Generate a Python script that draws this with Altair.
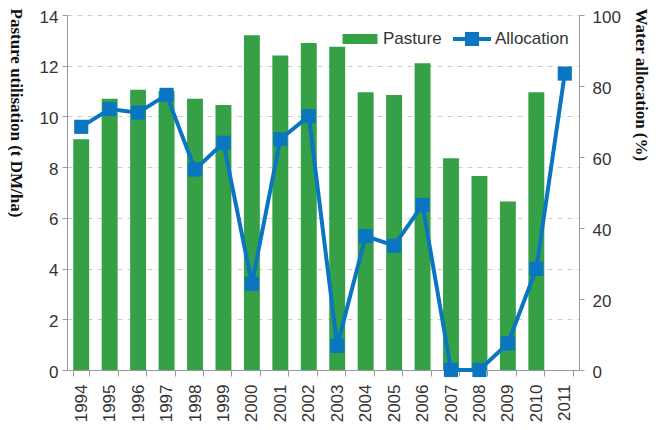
import altair as alt
import pandas as pd

years = [str(y) for y in range(1994, 2012)]
pasture = [9.1, 10.7, 11.05, 11.0, 10.7, 10.45, 13.2, 12.4, 12.9, 12.75,
           10.95, 10.85, 12.1, 8.35, 7.65, 6.65, 10.95, None]
allocation = [68.5, 73.5, 72.5, 77.5, 56.5, 64.0, 24.3, 65.0, 71.5, 6.8,
              37.7, 35.0, 46.5, 0.0, 0.0, 7.5, 28.5, 83.5]
series_names = ["Pasture", "Allocation"]
left_ticks = [0, 2, 4, 6, 8, 10, 12, 14]
right_ticks = [0, 20, 40, 60, 80, 100]

GREEN = "#35a046"
BLUE = "#0a76c2"
AXIS_GRAY = "#9a9a9a"
TXT = "#333333"
SANS = "Liberation Sans"
SERIF = "Liberation Serif"

df = pd.DataFrame({"year": years, "pasture": pasture, "allocation": allocation})
legend_df = pd.DataFrame({"series": series_names})

x_enc = alt.X(
    "year:O",
    title=None,
    scale=alt.Scale(paddingInner=0.44, paddingOuter=0.22),
    axis=alt.Axis(
        labelAngle=-90, labelAlign="right", labelBaseline="middle",
        tickBand="extent", tickSize=6, labelPadding=8,
        labelFontSize=17, labelColor=TXT, labelFont=SANS,
        domainColor=AXIS_GRAY, tickColor=AXIS_GRAY,
    ),
)

bars = alt.Chart(df).mark_bar(color=GREEN).encode(
    x=x_enc,
    y=alt.Y(
        "pasture:Q",
        scale=alt.Scale(domain=[0, 14], nice=False),
        axis=alt.Axis(
            orient="left", values=left_ticks, title="Pasture utilisation (t DM/ha)",
            grid=True, gridDash=[5, 5], gridColor="#cccccc",
            tickSize=5, labelPadding=4, labelOffset=2,
            labelFontSize=17, labelColor=TXT, labelFont=SANS,
            domainColor=AXIS_GRAY, tickColor=AXIS_GRAY,
            titleAngle=90, titleX=-52, titleY=-7, titleAlign="left", titleBaseline="middle",
            titleFont=SERIF, titleFontSize=17, titleFontWeight="bold", titleColor="#111111",
        ),
    ),
)

line = alt.Chart(df).mark_line(
    color=BLUE, strokeWidth=4,
    point=alt.OverlayMarkDef(shape="square", size=200, filled=True, color=BLUE, opacity=1),
).encode(
    x=x_enc,
    y=alt.Y(
        "allocation:Q",
        scale=alt.Scale(domain=[0, 100], nice=False),
        axis=alt.Axis(
            orient="right", values=right_ticks, title="Water allocation (%)", grid=False,
            tickSize=5, labelPadding=8, labelOffset=2,
            labelFontSize=17, labelColor=TXT, labelFont=SANS,
            domainColor=AXIS_GRAY, tickColor=AXIS_GRAY,
            titleAngle=90, titleX=61, titleY=-7, titleAlign="left", titleBaseline="middle",
            titleFont=SERIF, titleFontSize=17, titleFontWeight="bold", titleColor="#111111",
        ),
    ),
)

rect_path = "M-0.92,-0.26L0.92,-0.26L0.92,0.26L-0.92,0.26Z"
line_path = ("M-1,-0.105L1,-0.105L1,0.105L-1,0.105Z "
             "M-0.37,-0.37L0.37,-0.37L0.37,0.37L-0.37,0.37Z")

legend_props = dict(
    title=None, orient="none", legendX=274, legendY=5, direction="horizontal",
    symbolSize=1444, symbolStrokeWidth=0, labelFontSize=17, labelColor=TXT,
    labelFont=SANS, labelOffset=4, columnPadding=11, padding=0,
)

legend_layer = alt.Chart(legend_df).mark_point(filled=True, opacity=1, strokeWidth=0).encode(
    color=alt.Color("series:N", scale=alt.Scale(domain=series_names, range=[GREEN, BLUE]),
                    legend=alt.Legend(**legend_props)),
    shape=alt.Shape("series:N", scale=alt.Scale(domain=series_names, range=[rect_path, line_path]),
                    legend=alt.Legend(**legend_props)),
).transform_filter("datum.series == 'none'")

chart = alt.layer(bars, line, legend_layer).resolve_scale(y="independent").properties(
    width=512, height=355,
    autosize=alt.AutoSizeParams(type="none"),
    padding={"left": 59, "top": 7, "right": 76, "bottom": 55},
).configure_view(stroke=None)

chart.save("out.html", embed_options={"renderer": "svg", "actions": False})
